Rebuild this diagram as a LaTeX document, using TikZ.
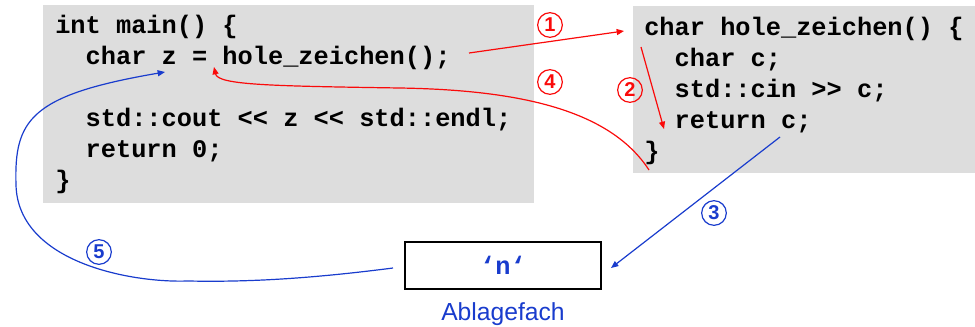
\documentclass[tikz,border=0pt]{standalone}
\usepackage{fontspec}
\setmainfont{Liberation Sans}
\newfontfamily\codefont{Liberation Mono}
\usetikzlibrary{arrows.meta}
\definecolor{codegrey}{RGB}{221,221,221}
\definecolor{redarrow}{RGB}{250,10,10}
\definecolor{bluearrow}{RGB}{25,60,205}
\begin{document}
\begin{tikzpicture}[x=0.75pt,y=-0.75pt,
  codebg/.style={fill=codegrey, draw=none, inner sep=0, anchor=north west},
  codeline/.style={font=\codefont\bfseries\fontsize{19}{23}\selectfont, anchor=base west, inner sep=0},
  steplabel/.style={circle, draw, line width=0.9pt, minimum size=18.5pt, inner sep=0,
     font=\bfseries\fontsize{15}{15}\selectfont},
  redstep/.style={steplabel, draw=redarrow, text=redarrow},
  bluestep/.style={steplabel, draw=bluearrow, text=bluearrow},
  redflow/.style={draw=redarrow, line width=0.9pt, -{Triangle[length=5.5pt,width=4.5pt]}},
  blueflow/.style={draw=bluearrow, line width=0.9pt, -{Triangle[length=5.5pt,width=4.5pt]}},
  fachbox/.style={draw=black, line width=1.4pt, minimum width=147pt, minimum height=35pt, inner sep=0}
]
\useasboundingbox (0,0) rectangle (975,326);
% grey code boxes
\node[codebg, minimum width=368.25pt, minimum height=148.5pt] (mainbox) at (43,5) {};
\node[codebg, minimum width=256.5pt, minimum height=125.25pt] (holebox) at (633,6) {};
% main code
\node[codeline] (m1) at (55,33) {int main() \{};
\node[codeline] (m2) at (85.4,64) {char z = hole\_zeichen();};
\node[codeline] (m3) at (85.4,126) {std::cout <{}< z <{}< std::endl;};
\node[codeline] (m4) at (85.4,157) {return 0;};
\node[codeline] (m5) at (55,188) {\}};
% hole_zeichen code
\node[codeline] (h1) at (644,35) {char hole\_zeichen() \{};
\node[codeline] (h2) at (674.4,66) {char c;};
\node[codeline] (h3) at (674.4,97) {std::cin >{}> c;};
\node[codeline] (h4) at (674.4,128) {return c;};
\node[codeline] (h5) at (644,159) {\}};
% Ablagefach
\node[fachbox] (fach) at (503,265.5) {\codefont\bfseries\fontsize{19}{23}\selectfont\color{bluearrow}‘n‘};
\node[anchor=base, inner sep=0, text=bluearrow, font=\fontsize{18.5}{20}\selectfont] (fachlabel) at (503,320) {Ablagefach};
% step labels
\node[redstep] (s1) at (550,25) {1};
\node[redstep] (s2) at (630,90) {2};
\node[bluestep] (s3) at (714,213) {3};
\node[redstep] (s4) at (550,82) {4};
\node[bluestep] (s5) at (99,252) {5};
% connector end points
\coordinate (a1s) at (469,53);
\coordinate (a1e) at (624,31);
\coordinate (a2s) at (641,47);
\coordinate (a2e) at (664,129);
\coordinate (a3s) at (780,137);
\coordinate (a3e) at (611,268);
\coordinate (a4s) at (649,170);
\coordinate (a4e) at (214,67);
\coordinate (a5s) at (393,268);
\coordinate (a5e) at (165,72);
% connectors
\draw[redflow] (a1s) -- (a1e);
\draw[redflow] (a2s) -- (a2e);
\draw[blueflow] (a3s) -- (a3e);
\draw[redflow] (a4s) .. controls (610,110) and (520,90) .. (400,88)
   .. controls (270,86) and (218,85) .. (a4e);
\draw[blueflow] (a5s) .. controls (300,280) and (240,282) .. (188,281)
   .. controls (130,283) and (18,262) .. (16,185)
   .. controls (14,120) and (30,95) .. (a5e);
\end{tikzpicture}
\end{document}
